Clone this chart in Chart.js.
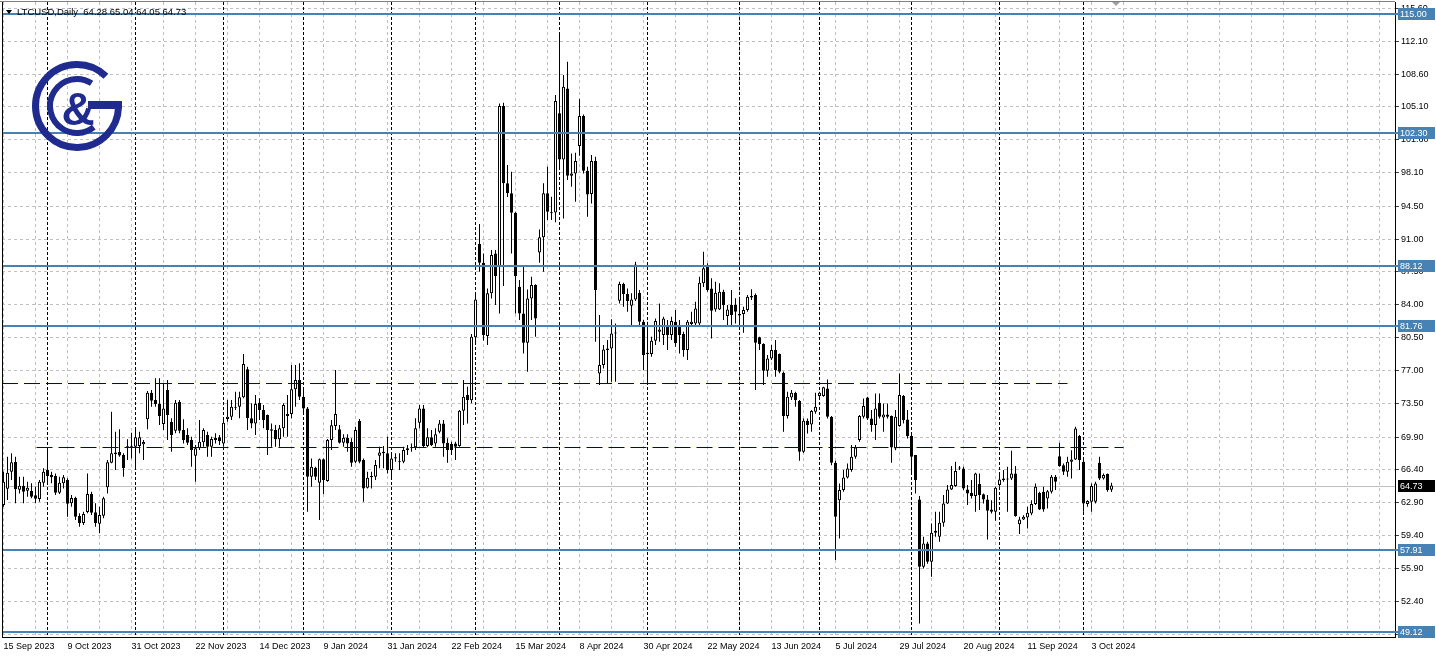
<!DOCTYPE html>
<html><head><meta charset="utf-8">
<script src="https://cdn.jsdelivr.net/npm/chart.js@4/dist/chart.umd.min.js"></script>
<style>html,body{margin:0;padding:0;background:#fff;overflow:hidden}#wrap{width:1436px;height:657px;position:relative}</style>
</head><body><div id="wrap"><canvas id="c" width="1436" height="657"></canvas></div>
<script>
// ---- data (LTCUSD daily, 15 Sep 2023 .. 10 Oct 2024) ----
const openValues = [
62.66,64.40,66.21,67.24,64.29,64.72,64.19,64.15,63.69,63.30,65.04,66.39,65.89,65.75,63.97,64.97,65.32,62.84,63.40,61.48,
60.74,61.91,63.83,61.88,60.67,61.52,64.54,67.17,68.10,68.31,67.99,68.81,68.88,68.88,68.95,69.13,71.79,74.63,73.85,73.43,
71.29,74.92,71.54,70.58,73.64,70.65,70.12,69.59,67.92,68.70,69.34,70.12,68.88,69.84,69.87,69.23,71.83,72.08,73.04,73.14,
74.14,77.12,71.90,71.36,73.57,72.79,72.25,70.73,70.65,69.66,70.83,72.15,72.36,74.99,75.99,74.21,72.96,65.68,66.64,65.04,
67.53,65.22,69.59,71.08,70.73,69.30,69.84,69.37,67.28,71.61,67.46,64.51,65.61,65.68,67.92,68.17,68.17,66.39,67.63,67.21,
67.28,68.52,68.70,68.81,71.44,72.96,68.95,69.87,69.23,70.48,71.36,69.30,69.16,69.23,68.95,72.71,74.39,73.84,80.53,90.48,
88.49,80.67,85.22,89.48,88.13,105.19,96.95,95.88,93.82,85.93,83.08,79.96,84.68,86.11,89.59,91.19,95.88,93.75,93.85,104.41,
99.50,107.07,97.76,98.01,100.93,104.12,98.30,95.81,99.33,76.69,77.58,79.18,79.35,80.95,84.44,86.21,85.15,83.90,84.58,85.29,
82.20,78.75,78.75,80.17,81.13,80.78,81.84,80.78,82.20,81.67,80.88,79.18,81.95,82.02,82.02,86.29,88.06,85.75,83.51,83.51,
85.40,82.80,83.98,83.98,82.87,83.02,83.44,84.79,85.04,80.53,79.82,76.97,78.29,79.18,78.75,76.76,72.14,74.13,74.63,73.74,
68.34,71.64,71.25,72.60,74.27,74.27,75.09,72.07,67.17,63.18,64.25,65.60,66.38,67.80,69.58,72.07,74.13,71.89,71.18,73.56,
72.00,72.32,72.14,68.69,71.07,74.27,71.78,70.01,67.98,63.25,56.08,58.56,56.61,59.70,59.27,60.77,62.83,64.32,64.68,66.67,
66.56,64.32,63.97,63.61,64.89,63.82,63.25,62.19,61.94,64.78,65.32,65.39,65.49,66.03,60.62,61.12,61.34,61.76,62.76,63.97,
64.07,63.36,64.07,65.67,67.87,66.91,66.20,67.27,67.52,70.01,67.27,62.76,63.01,63.01,67.16,65.49,65.96,64.28];
const highValues = [
66.21,67.81,68.17,67.81,65.68,65.68,65.15,64.97,64.61,65.32,66.57,68.70,66.21,66.03,65.68,65.85,65.50,63.72,63.55,61.77,
61.95,66.03,64.08,62.84,62.48,63.55,67.46,72.61,70.48,70.73,68.17,69.66,70.37,70.65,70.48,69.59,74.80,74.92,76.16,76.16,
75.63,75.99,71.90,73.85,73.85,71.79,70.83,69.94,69.05,71.72,70.83,70.48,69.94,70.30,70.12,71.72,73.85,73.85,74.74,74.74,
78.76,77.41,73.50,74.39,74.03,73.32,72.30,71.36,71.19,71.19,73.50,74.39,77.58,77.58,77.76,74.92,73.10,67.63,66.74,67.63,
67.63,69.70,71.72,77.05,71.19,70.19,70.19,69.77,71.01,71.83,67.63,66.21,66.21,67.46,68.88,68.95,69.94,68.17,68.17,68.17,
68.88,69.05,69.23,71.90,73.32,73.32,70.83,70.65,70.83,71.72,71.72,69.77,69.41,69.41,72.79,75.99,75.27,80.90,85.04,92.61,
89.48,85.75,89.84,89.84,105.47,105.55,98.90,98.19,93.92,86.64,88.06,85.64,86.99,86.20,92.04,96.95,98.72,95.52,106.36,112.87,
108.50,109.92,100.14,100.22,105.94,104.30,98.72,99.97,99.79,82.91,79.71,80.24,82.45,82.00,86.46,86.35,85.75,85.22,88.59,85.58,
82.40,82.20,80.60,82.55,84.15,82.73,82.38,82.73,83.44,82.38,81.13,82.38,83.27,84.33,87.00,89.66,88.42,86.82,86.46,86.29,
85.60,83.98,85.58,84.69,84.51,83.80,85.04,85.65,85.20,80.60,79.89,78.64,79.71,80.24,78.82,76.90,74.74,74.91,74.74,73.85,
71.89,71.89,72.78,74.63,74.74,75.27,76.05,72.14,67.38,64.96,66.38,67.09,69.05,69.05,72.25,74.02,74.20,72.78,74.56,74.56,
73.49,73.49,72.20,72.78,76.69,74.38,72.78,70.11,68.00,63.61,59.27,58.74,60.70,61.94,61.94,63.72,64.78,66.81,67.27,66.81,
66.74,64.78,65.32,66.10,66.03,63.89,63.72,63.18,64.60,66.03,66.38,66.74,68.44,66.81,61.41,61.58,62.47,63.18,64.96,64.07,
64.60,64.25,65.85,65.85,69.30,67.09,67.80,68.51,71.00,70.11,67.45,63.18,64.96,65.14,67.80,66.03,66.03,65.04];
const lowValues = [
62.48,63.19,65.32,62.84,63.90,62.84,63.55,63.37,62.84,63.00,64.61,64.97,64.97,63.72,63.83,64.43,61.41,62.48,61.06,60.35,
60.52,61.77,61.59,60.35,59.64,61.24,63.90,67.10,66.39,67.81,65.68,67.46,67.63,66.39,68.17,67.46,70.73,73.14,73.14,71.19,
70.65,69.59,68.34,70.30,70.30,69.23,69.05,66.74,65.15,68.52,68.88,67.81,67.81,69.23,69.05,68.88,71.54,71.72,72.79,71.90,
74.03,70.65,70.83,70.12,71.72,70.83,67.99,68.88,68.88,68.88,69.94,69.94,71.90,73.14,73.85,72.25,61.95,64.61,65.32,61.06,
63.83,65.15,68.52,70.65,69.23,68.88,68.34,66.74,67.10,67.10,63.01,64.43,64.43,65.32,66.57,66.57,66.03,65.32,67.28,66.39,
67.10,67.99,68.34,68.52,70.83,68.81,68.81,68.95,68.88,70.30,67.81,67.17,67.99,67.46,68.88,71.19,71.36,73.50,79.71,87.53,
80.20,79.71,84.68,83.97,83.08,86.00,95.50,89.48,83.08,82.37,78.82,76.87,82.37,80.60,88.49,87.53,93.04,93.04,92.79,98.50,
93.21,97.30,96.59,94.99,99.90,98.00,93.39,94.81,80.06,75.44,77.20,75.62,75.80,75.80,84.15,83.80,83.26,81.84,84.40,81.67,
77.05,75.50,78.47,79.71,80.07,79.71,79.18,80.24,79.53,78.82,78.47,78.11,81.84,81.84,81.84,85.90,85.40,80.42,83.27,83.44,
82.38,81.84,81.84,82.02,81.84,81.03,83.27,84.51,74.91,79.18,75.45,76.33,78.11,76.33,76.70,70.47,71.89,73.85,73.14,67.38,
68.20,70.29,70.47,72.40,74.13,74.20,71.89,66.90,56.79,59.10,64.07,65.49,66.20,67.60,69.40,71.89,71.71,70.47,69.58,71.89,
70.47,71.89,67.16,68.51,71.00,71.36,69.76,65.85,63.89,50.03,55.90,56.40,55.01,59.27,58.74,60.34,62.76,64.25,64.60,66.38,
64.25,62.65,63.36,61.94,62.12,62.83,58.99,61.76,60.98,64.60,65.14,61.94,65.32,61.41,59.56,61.05,60.16,61.58,62.65,62.12,
61.94,62.29,63.89,64.25,66.74,65.85,65.67,65.49,67.45,66.38,61.94,62.47,61.94,62.83,65.32,65.39,64.07,64.05];
const closeValues = [
65.15,66.11,67.21,64.33,64.72,64.08,64.51,63.55,63.33,65.15,66.21,65.75,65.61,63.97,65.04,65.61,62.80,63.40,61.41,60.74,
61.70,63.83,61.84,60.74,61.59,63.37,67.21,68.17,68.27,67.95,66.57,68.88,68.95,69.87,69.87,69.37,74.63,73.78,73.43,72.15,
72.96,72.25,70.12,73.57,70.58,69.59,69.30,68.52,68.70,69.41,70.65,68.88,69.69,69.59,69.48,71.44,72.08,73.14,73.14,74.14,
77.69,71.90,71.36,73.43,72.79,71.72,70.65,70.58,69.66,70.83,73.32,72.36,74.99,75.99,74.21,72.96,65.68,66.74,65.68,67.53,
65.32,69.59,71.15,72.36,69.30,69.84,69.23,67.17,70.65,67.28,64.43,65.57,65.75,66.92,68.27,68.34,66.39,67.63,67.74,67.28,
68.52,68.70,68.81,70.83,72.96,68.95,69.87,69.05,70.19,71.36,69.23,68.52,68.52,68.88,72.71,74.21,73.85,80.60,84.58,88.49,
80.77,85.22,89.30,87.07,105.19,96.95,95.88,93.82,87.07,83.08,79.96,84.68,86.11,82.55,91.19,95.88,93.92,93.85,105.72,99.50,
107.25,97.76,98.01,99.33,104.12,98.30,95.77,99.33,85.57,77.58,79.25,79.35,80.95,81.06,86.21,85.15,84.40,84.58,88.31,82.20,
78.64,78.89,80.17,82.27,81.38,82.55,80.78,82.27,79.89,80.78,79.18,82.20,82.20,83.62,86.36,87.89,85.58,83.37,85.29,85.40,
83.98,83.51,82.91,83.27,83.02,83.44,84.86,84.94,79.96,79.82,76.97,78.29,79.18,77.05,76.87,72.14,74.20,74.63,73.85,68.34,
71.64,71.18,72.67,73.14,74.63,75.20,72.07,67.17,61.41,64.25,65.60,66.56,67.80,68.80,72.14,73.21,71.89,71.18,72.96,72.07,
72.32,72.07,68.80,72.07,74.38,71.71,70.01,67.80,65.32,56.08,58.56,56.61,59.70,59.91,60.77,62.83,64.32,64.78,66.28,66.56,
64.43,63.89,63.61,66.03,63.72,63.25,62.05,61.94,64.50,65.39,65.49,65.49,66.03,61.48,61.12,61.41,61.83,62.76,64.60,62.19,
62.19,64.14,65.67,65.14,66.81,66.20,67.27,67.52,70.82,67.45,62.83,63.08,64.68,64.96,65.49,65.85,64.25,64.73];
const xTickLabels = ['15 Sep 2023','9 Oct 2023','31 Oct 2023','22 Nov 2023','14 Dec 2023','9 Jan 2024','31 Jan 2024',
  '22 Feb 2024','15 Mar 2024','8 Apr 2024','30 Apr 2024','22 May 2024','13 Jun 2024','5 Jul 2024','29 Jul 2024',
  '20 Aug 2024','11 Sep 2024','3 Oct 2024'];
const yTickValues = [115.60,112.10,108.60,105.10,101.60,98.10,94.50,91.00,87.50,84.00,80.50,77.00,73.50,69.90,66.40,62.90,59.40,55.90,52.40,48.90];
const levelValues = [115.00, 102.30, 88.12, 81.76, 57.91, 49.12];
const currentPrice = 64.73;
const symbolName = 'LTCUSD,Daily';
const headerValues = [64.28, 65.04, 64.05, 64.73];
const upperDashed = 75.61;
const lowerDashed = 68.79;
const monthSeparators = [11, 33, 55, 75, 97, 118, 139, 161, 184, 204, 227, 249, 270];

// ---- styling / layout ----
const FONT = '"Liberation Sans", Arial, sans-serif';
const LEVEL_BLUE = '#4682b4';
const NAVY = '#00007f';
const idx = openValues.map((_, i) => i);
const xMin = -0.375, xMax = 347.875;

const decor = {
  id: 'decor',
  beforeDatasetsDraw(chart) {
    const {ctx, chartArea: a, scales: {x, y}} = chart;
    ctx.save();
    ctx.lineWidth = 1;
    ctx.strokeStyle = '#000';
    ctx.setLineDash([3, 2]);
    monthSeparators.forEach(m => {
      const px = x.getPixelForValue(m);
      ctx.beginPath(); ctx.moveTo(px, a.top); ctx.lineTo(px, a.bottom); ctx.stroke();
    });
    ctx.setLineDash([]);
    ctx.strokeStyle = '#c0c0c0';
    const py = Math.round(y.getPixelForValue(currentPrice)) + 0.5;
    ctx.beginPath(); ctx.moveTo(a.left, py); ctx.lineTo(a.right, py); ctx.stroke();
    ctx.restore();
  },
  afterDatasetsDraw(chart) {
    const {ctx, chartArea: a, scales: {y}} = chart;
    ctx.save();
    ctx.strokeStyle = LEVEL_BLUE; ctx.lineWidth = 2;
    levelValues.forEach(v => {
      const py = Math.round(y.getPixelForValue(v));
      ctx.beginPath(); ctx.moveTo(a.left, py); ctx.lineTo(a.right + 3, py); ctx.stroke();
    });
    ctx.restore();
  },
  afterDraw(chart) {
    const {ctx, chartArea: a, scales: {y}} = chart;
    ctx.save();
    // frame
    ctx.strokeStyle = '#000'; ctx.lineWidth = 1;
    ctx.beginPath(); ctx.moveTo(a.left + 0.5, a.top); ctx.lineTo(a.left + 0.5, a.bottom); ctx.stroke();
    ctx.strokeStyle = '#808080';
    ctx.beginPath(); ctx.moveTo(0, 1.5); ctx.lineTo(a.right, 1.5); ctx.stroke();
    // level boxes
    ctx.font = '9px ' + FONT; ctx.textBaseline = 'middle'; ctx.textAlign = 'left';
    const box = (v, bg) => {
      const py = Math.round(y.getPixelForValue(v));
      ctx.fillStyle = bg; ctx.fillRect(a.right + 3, py - 6, 37, 12);
      ctx.fillStyle = '#fff'; ctx.fillText(v.toFixed(2), a.right + 5, py + 0.5);
    };
    levelValues.forEach(v => box(v, LEVEL_BLUE));
    box(currentPrice, '#000');
    // header
    ctx.fillStyle = '#000';
    ctx.beginPath(); ctx.moveTo(6, 10); ctx.lineTo(12, 10); ctx.lineTo(9, 14); ctx.closePath(); ctx.fill();
    ctx.font = '9.5px ' + FONT; ctx.textBaseline = 'middle';
    ctx.fillText(symbolName + '  ' + headerValues.map(v => v.toFixed(2)).join(' '), 17, 12);
    // shift marker
    ctx.fillStyle = '#a0a0a0';
    ctx.beginPath(); ctx.moveTo(1112, 2); ctx.lineTo(1120, 2); ctx.lineTo(1116, 6); ctx.closePath(); ctx.fill();
    // logo
    const cx = 77, cy = 106, navy = '#1f2b8f';
    ctx.strokeStyle = navy; ctx.fillStyle = navy; ctx.lineCap = 'butt';
    ctx.lineWidth = 7;
    ctx.beginPath(); ctx.arc(cx, cy, 41.5, -0.8, 0.03, true); ctx.stroke();
    ctx.fillRect(88, 101, 34, 8);
    ctx.lineWidth = 6;
    ctx.beginPath(); ctx.arc(cx, cy, 27, -1.0, 0.9, true); ctx.stroke();
    ctx.font = 'bold 46px ' + FONT; ctx.textAlign = 'center'; ctx.textBaseline = 'alphabetic';
    ctx.fillText('&', cx + 1, 125);
    ctx.restore();
  }
};

const chart = new Chart(document.getElementById('c'), {
  type: 'bar',
  data: {
    datasets: [
      { type: 'line', data: [{x: xMin, y: upperDashed}, {x: 266, y: upperDashed}], borderColor: NAVY, borderWidth: 1,
        borderDash: [16, 6], pointRadius: 0, fill: false, order: 0 },
      { type: 'line', data: [{x: 8.25, y: lowerDashed}, {x: 280, y: lowerDashed}], borderColor: NAVY, borderWidth: 1,
        borderDash: [16, 6], pointRadius: 0, fill: false, order: 0 },
      { data: idx.map(i => ({x: i, y: [openValues[i], closeValues[i]]})),
        backgroundColor: idx.map(i => closeValues[i] >= openValues[i] ? '#ffffff' : '#000000'),
        borderColor: '#000', borderWidth: 1, borderSkipped: false, barThickness: 3, grouped: false,
        minBarLength: 1, inflateAmount: 0, order: 1 },
      { data: idx.map(i => ({x: i, y: [lowValues[i], highValues[i]]})),
        backgroundColor: '#000', borderWidth: 0, barThickness: 1, grouped: false, inflateAmount: 0, order: 2 }
    ]
  },
  options: {
    responsive: false, animation: false, devicePixelRatio: 1,
    layout: { padding: {left: 2, top: 2, right: 0, bottom: 0}, autoPadding: false },
    plugins: { legend: {display: false}, tooltip: {enabled: false} },
    scales: {
      x: {
        type: 'linear', min: xMin, max: xMax, offset: false,
        grid: { color: '#c0c0c0', offset: false, drawTicks: false, lineWidth: 1 },
        border: { display: true, color: '#000', width: 1, dash: [3, 3] },
        afterBuildTicks: s => { const t = []; for (let v = 0; v <= 344; v += 8) t.push({value: v}); s.ticks = t; },
        afterFit: s => { s.height = 20; s.paddingLeft = 0; s.paddingRight = 0; },
        ticks: { autoSkip: false, maxRotation: 0, minRotation: 0, align: 'start', padding: 4, color: '#000',
          font: { family: FONT, size: 9 },
          callback: v => { const i = v / 16; return Number.isInteger(i) && i < xTickLabels.length ? xTickLabels[i] : ''; } }
      },
      y: {
        type: 'linear', position: 'right', min: 48.59, max: 116.28, beginAtZero: false,
        grid: { color: '#c0c0c0', drawTicks: true, tickLength: 4, tickColor: '#404040', lineWidth: 1 },
        border: { display: true, color: '#000', width: 1, dash: [3, 3] },
        afterBuildTicks: s => { s.ticks = yTickValues.map(v => ({value: v})); },
        afterFit: s => { s.width = 41; s.paddingTop = 0; s.paddingBottom = 0; },
        ticks: { autoSkip: false, padding: 2, color: '#000', font: { family: FONT, size: 9 },
          callback: v => v.toFixed(2) }
      }
    }
  },
  plugins: [decor]
});
</script></body></html>
